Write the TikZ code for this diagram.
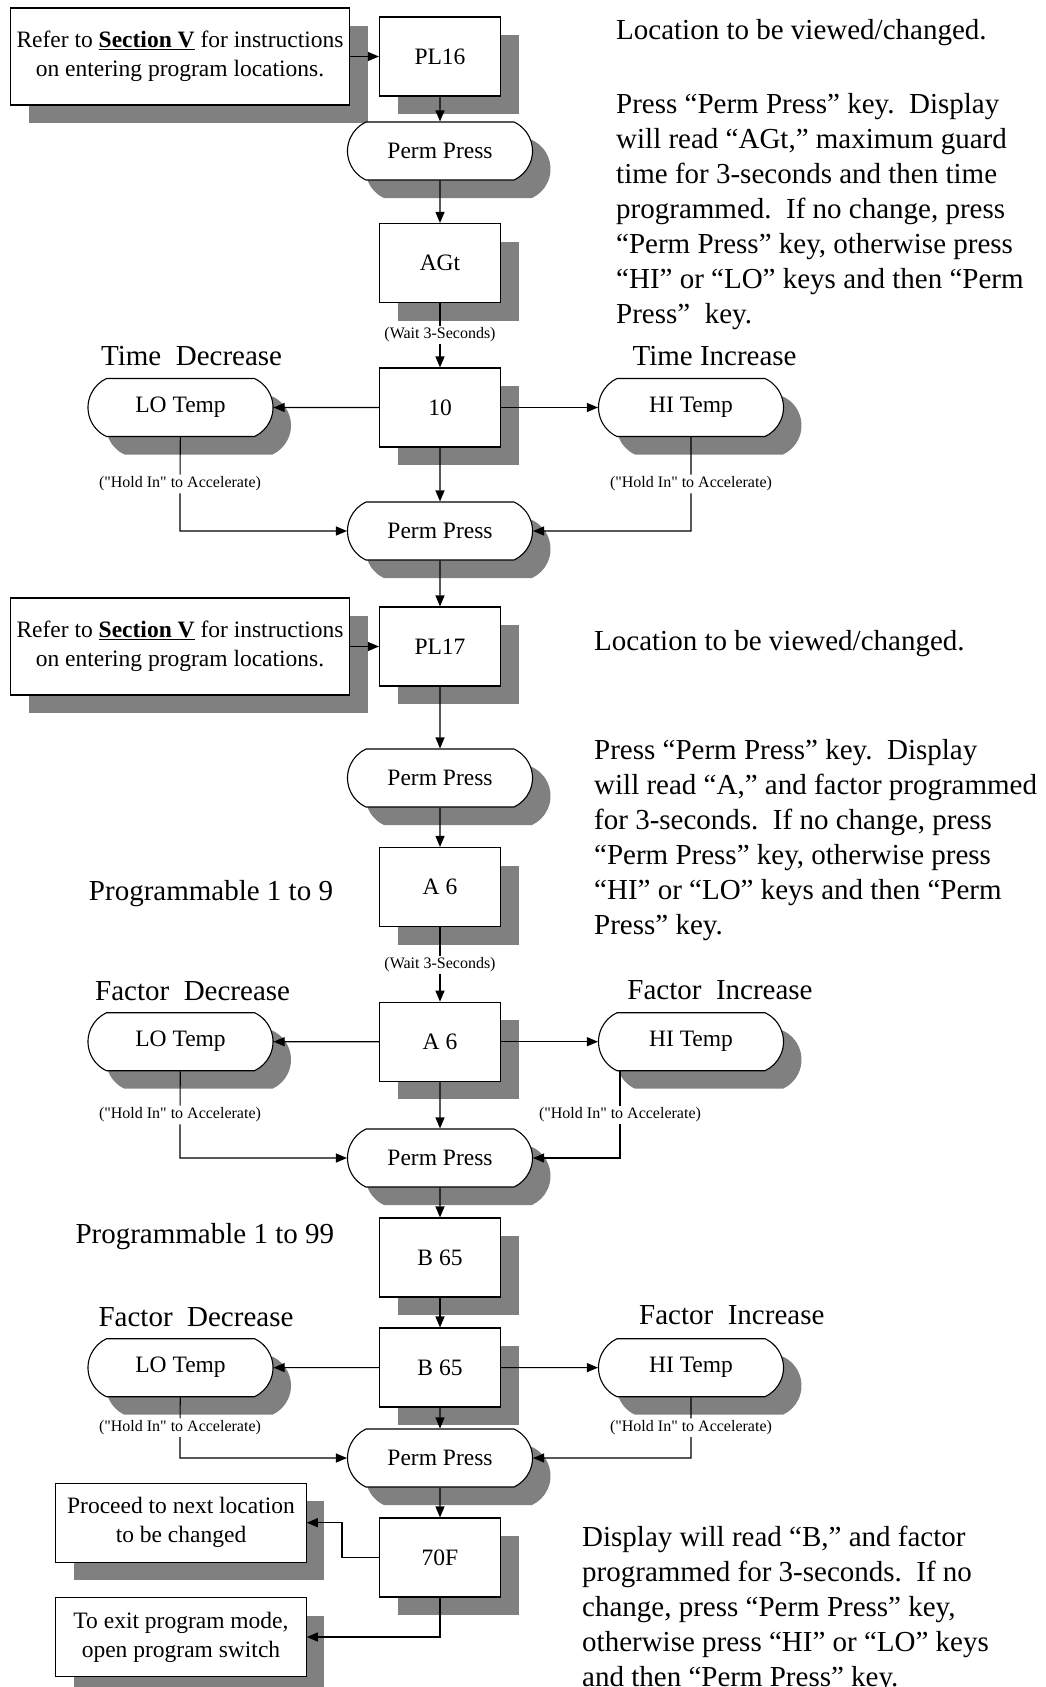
\documentclass[tikz,border=0pt]{standalone}
\usepackage{fontspec}
\setmainfont{Liberation Serif}
\newfontfamily\hintfont{Liberation Serif}
\usepackage{tikz}
\usetikzlibrary{shapes.misc, arrows.meta, shadows}
\definecolor{shadowgray}{rgb}{0.5,0.5,0.5}
\tikzstyle{boxshadow} = [drop shadow={shadow xshift=18pt, shadow yshift=-18pt, fill=shadowgray, opacity=1}]
\tikzstyle{display} = [rectangle, draw=black, fill=white, line width=1.1pt, minimum width=121pt, minimum height=79pt, inner sep=0pt, font=\fontsize{23.5}{28}\selectfont, boxshadow]
\tikzstyle{keypress} = [rounded rectangle, rounded rectangle arc length=130, draw=black, fill=white, line width=1.1pt, minimum width=185pt, minimum height=58pt, inner sep=0pt, font=\fontsize{23.5}{28}\selectfont, boxshadow]
\tikzstyle{remark} = [rectangle, draw=black, fill=white, line width=1.1pt, align=center, inner sep=0pt, font=\fontsize{23.5}{29}\selectfont, boxshadow]
\tikzstyle{heading} = [inner sep=0pt, font=\fontsize{29}{35}\selectfont]
\tikzstyle{desc} = [heading, align=left, anchor=north west]
\tikzstyle{hint} = [fill=white, inner sep=2pt, font=\hintfont\fontsize{16}{19}\selectfont]
\tikzstyle{arrow} = [line width=1.1pt, -{Triangle[length=11pt,width=9pt]}]

\begin{document}
\begin{tikzpicture}[x=1pt, y=-1pt]
\useasboundingbox (0,0) rectangle (1045,1687);

% location PL16
\node[remark, minimum width=339pt, minimum height=97pt] (refer1) at (180,56.5) {Refer to \textbf{\underline{Section V}} for instructions\\on entering program locations.};
\node[display] (pl16) at (440,56.5) {PL16};
\node[keypress] (perm1) at (440,151) {Perm Press};
\node[display] (agt) at (440,263) {AGt};
\node[hint] (waitagt) at (440,335) {(Wait 3-Seconds)};
\node[display] (ten) at (440,407.5) {10};
\node[keypress] (lo1) at (180.5,407.5) {LO Temp};
\node[keypress] (hi1) at (691,407.5) {HI Temp};
\node[heading] (timedec) at (191.6,356) {Time\ \ Decrease};
\node[heading] (timeinc) at (714.6,356) {Time Increase};
\node[hint] (holdlo1) at (180,484) {("Hold In" to Accelerate)};
\node[hint] (holdhi1) at (691,484) {("Hold In" to Accelerate)};
\node[keypress] (perm2) at (440,531) {Perm Press};

\node[heading, anchor=west] (loc1) at (616,33) {Location to be viewed/changed.};
\node[desc] (desc1) at (616,93) {Press “Perm Press” key.\ \ Display\\
will read “AGt,” maximum guard\\
time for 3-seconds and then time\\
programmed.\ \ If no change, press\\
“Perm Press” key, otherwise press\\
“HI” or “LO” keys and then “Perm\\
Press”\ \ key.};

% location PL17
\node[remark, minimum width=339pt, minimum height=97pt] (refer2) at (180,646.5) {Refer to \textbf{\underline{Section V}} for instructions\\on entering program locations.};
\node[display] (pl17) at (440,646.5) {PL17};
\node[keypress] (perm3) at (440,778) {Perm Press};
\node[display] (asix) at (440,887) {A 6};
\node[heading] (prognine) at (211,893.3) {Programmable 1 to 9};
\node[hint] (waitasix) at (440,965) {(Wait 3-Seconds)};
\node[heading] (facdec1) at (192.6,991) {Factor\ \ Decrease};
\node[heading] (facinc1) at (720,990) {Factor\ \ Increase};
\node[display] (asixb) at (440,1041.7) {A 6};
\node[keypress] (lo2) at (180.5,1041.7) {LO Temp};
\node[keypress] (hi2) at (691,1041.7) {HI Temp};
\node[hint] (holdlo2) at (180,1115) {("Hold In" to Accelerate)};
\node[hint] (holdhi2) at (620,1115) {("Hold In" to Accelerate)};
\node[keypress] (perm4) at (440,1158) {Perm Press};

\node[heading, anchor=west] (loc2) at (594,643.6) {Location to be viewed/changed.};
\node[desc] (desc2) at (594,739) {Press “Perm Press” key.\ \ Display\\
will read “A,” and factor programmed\\
for 3-seconds.\ \ If no change, press\\
“Perm Press” key, otherwise press\\
“HI” or “LO” keys and then “Perm\\
Press” key.};

\node[heading] (prognn) at (204.8,1236.7) {Programmable 1 to 99};
\node[display] (bsf) at (440,1257.5) {B 65};
\node[heading] (facdec2) at (196,1316.7) {Factor\ \ Decrease};
\node[heading] (facinc2) at (731.8,1315) {Factor\ \ Increase};
\node[display] (bsfb) at (440,1367.5) {B 65};
\node[keypress] (lo3) at (180.5,1367.7) {LO Temp};
\node[keypress] (hi3) at (691,1367.7) {HI Temp};
\node[hint] (holdlo3) at (180,1427.7) {("Hold In" to Accelerate)};
\node[hint] (holdhi3) at (691,1427.7) {("Hold In" to Accelerate)};
\node[keypress] (perm5) at (440,1458) {Perm Press};
\node[display] (sevenoh) at (440,1557.5) {70F};
\node[remark, minimum width=250.5pt, minimum height=79pt] (proceed) at (181,1522.7) {Proceed to next location\\to be changed};
\node[remark, minimum width=250.5pt, minimum height=79pt] (exitmode) at (181,1637) {To exit program mode,\\open program switch};

\node[desc] (desc3) at (582,1526) {Display will read “B,” and factor\\
programmed for 3-seconds.\ \ If no\\
change, press “Perm Press” key,\\
otherwise press “HI” or “LO” keys\\
and then “Perm Press” key.};

\draw[arrow] (refer1) -- (pl16);
\draw[arrow] (pl16) -- (perm1);
\draw[arrow] (perm1) -- (agt);
\draw[arrow] (agt) -- (waitagt) -- (ten);
\draw[arrow] (ten) -- (lo1);
\draw[arrow] (ten) -- (hi1);
\draw[arrow] (ten) -- (perm2);
\draw[arrow] (lo1) -- (holdlo1) |- (perm2);
\draw[arrow] (hi1) -- (holdhi1) |- (perm2);
\draw[arrow] (perm2) -- (pl17);

\draw[arrow] (refer2) -- (pl17);
\draw[arrow] (pl17) -- (perm3);
\draw[arrow] (perm3) -- (asix);
\draw[arrow] (asix) -- (waitasix) -- (asixb);
\draw[arrow] (asixb) -- (lo2);
\draw[arrow] (asixb) -- (hi2);
\draw[arrow] (asixb) -- (perm4);
\draw[arrow] (lo2) -- (holdlo2) |- (perm4);
\draw[arrow] (holdhi2 |- hi2.south) -- (holdhi2) |- (perm4);
\draw[arrow] (perm4) -- (bsf);

\draw[arrow] (bsf) -- (bsfb);
\draw[arrow] (bsfb) -- (lo3);
\draw[arrow] (bsfb) -- (hi3);
\draw[arrow] (bsfb) -- (perm5);
\draw[arrow] (lo3) -- (holdlo3) |- (perm5);
\draw[arrow] (hi3) -- (holdhi3) |- (perm5);
\draw[arrow] (perm5) -- (sevenoh);
\draw[arrow] (sevenoh.west) -- ++(-37,0) |- (proceed);
\draw[arrow] (sevenoh) |- (exitmode);
\end{tikzpicture}
\end{document}
